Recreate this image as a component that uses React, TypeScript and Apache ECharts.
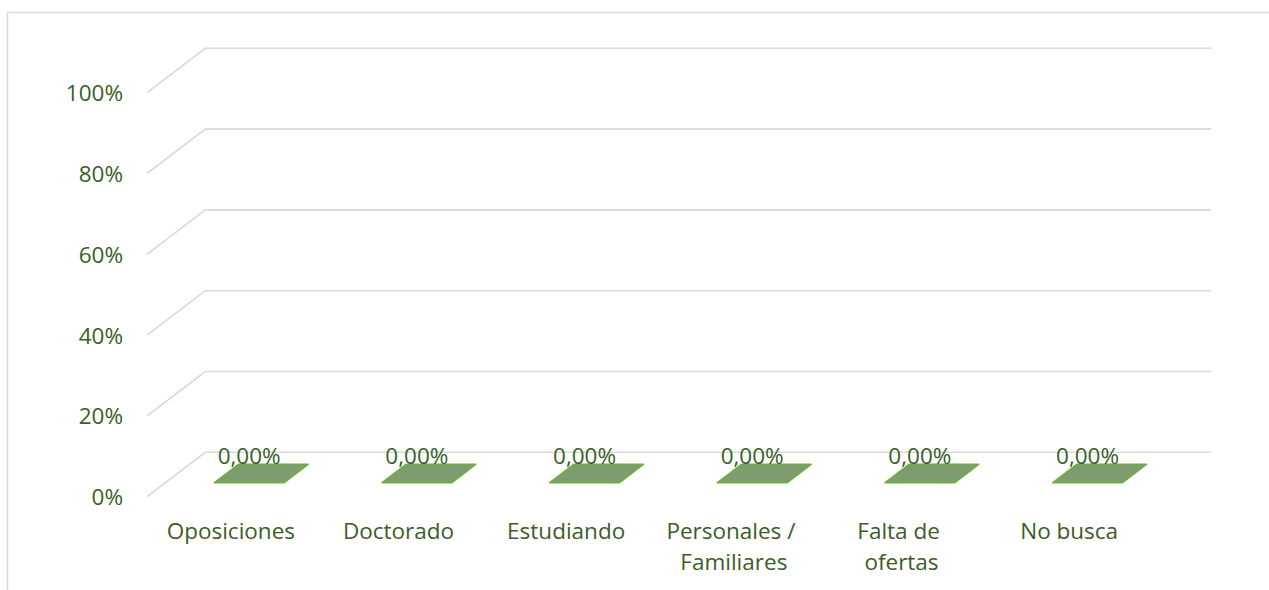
import React, { useEffect, useRef } from 'react';
import * as echarts from 'echarts';

const categories = ['Oposiciones', 'Doctorado', 'Estudiando', 'Personales / Familiares', 'Falta de ofertas', 'No busca'];
const values = [0, 0, 0, 0, 0, 0];
const yTicks = [0, 20, 40, 60, 80, 100];

const DEPTH_X = 58.3;
const DEPTH_Y = 44.4;
const BAR_D0 = 0.315;
const BAR_D1 = 0.73;
const BAR_W = 0.413;

const TEXT_COLOR = '#3a5e26';
const FONT = 'Open Sans';
const GRID_COLOR = '#d9d9d9';

export default function App() {
  const ref = useRef<HTMLDivElement>(null);
  useEffect(() => {
    const chart = echarts.init(ref.current!, null, { renderer: 'svg' });
    chart.setOption({
      animation: false,
      graphic: [
        {
          type: 'rect',
          silent: true,
          z: 0,
          shape: { x: 7.5, y: 12.5, width: 1400, height: 700 },
          style: { fill: 'none', stroke: GRID_COLOR, lineWidth: 1.5 },
        },
      ],
      grid: { left: 147, right: 116, top: 92.7, bottom: 93.3, containLabel: false },
      xAxis: {
        type: 'category',
        data: categories,
        axisLine: { show: false },
        axisTick: { show: false },
        splitLine: { show: false },
        axisLabel: {
          interval: 0,
          color: TEXT_COLOR,
          fontFamily: FONT,
          fontSize: 22.5,
          lineHeight: 31,
          margin: 18,
          width: 150,
          overflow: 'break',
        },
      },
      yAxis: {
        type: 'value',
        min: 0,
        max: 100,
        interval: 20,
        axisLine: { show: false },
        axisTick: { show: false },
        splitLine: { show: false },
        axisLabel: {
          formatter: '{value}%',
          color: TEXT_COLOR,
          fontFamily: FONT,
          fontSize: 22.5,
          margin: 24,
        },
      },
      series: [
        {
          type: 'custom',
          name: 'grid3d',
          silent: true,
          z: 1,
          data: yTicks.map((v) => [0, v]),
          encode: { x: 0, y: 1 },
          renderItem: (params: any, api: any) => {
            const cs = params.coordSys;
            const y = api.coord([0, api.value(1)])[1];
            const x0 = cs.x;
            const x1 = cs.x + cs.width;
            return {
              type: 'polyline',
              shape: {
                points: [
                  [x0, y],
                  [x0 + DEPTH_X, y - DEPTH_Y],
                  [x1 + DEPTH_X, y - DEPTH_Y],
                ],
              },
              style: { stroke: GRID_COLOR, lineWidth: 1.6, fill: 'none' },
            };
          },
        },
        {
          type: 'custom',
          name: 'Valores',
          z: 2,
          data: values.map((v, i) => [i, v]),
          encode: { x: 0, y: 1 },
          renderItem: (params: any, api: any) => {
            const i = api.value(0);
            const v = api.value(1);
            const base = api.coord([i, 0]);
            const top = api.coord([i, v]);
            const bw = api.size([1, 0])[0];
            const w = bw * BAR_W;
            const cx = base[0];
            const yb = base[1];
            const yt = top[1];
            const P = (x: number, y: number, d: number) => [x + d * DEPTH_X, y - d * DEPTH_Y];
            const xl = cx - w / 2;
            const xr = cx + w / 2;
            const fill = '#7f9b70';
            const stroke = '#70ad47';
            const children: any[] = [];
            if (yb - yt > 0.5) {
              children.push({
                type: 'polygon',
                shape: { points: [P(xl, yb, BAR_D0), P(xr, yb, BAR_D0), P(xr, yt, BAR_D0), P(xl, yt, BAR_D0)] },
                style: { fill, stroke, lineWidth: 1.5 },
              });
              children.push({
                type: 'polygon',
                shape: { points: [P(xr, yb, BAR_D0), P(xr, yb, BAR_D1), P(xr, yt, BAR_D1), P(xr, yt, BAR_D0)] },
                style: { fill: '#6e8b60', stroke, lineWidth: 1.5 },
              });
            }
            children.push({
              type: 'polygon',
              shape: { points: [P(xl, yt, BAR_D0), P(xr, yt, BAR_D0), P(xr, yt, BAR_D1), P(xl, yt, BAR_D1)] },
              style: { fill, stroke, lineWidth: 1.8, lineJoin: 'round' },
            });
            const lab = P(cx, yt, BAR_D0);
            children.push({
              type: 'text',
              x: lab[0],
              y: yt - BAR_D1 * DEPTH_Y - 9,
              style: {
                text: v.toFixed(2).replace('.', ',') + '%',
                fill: TEXT_COLOR,
                fontFamily: FONT,
                fontSize: 22.5,
                align: 'center',
                verticalAlign: 'middle',
              },
            });
            return { type: 'group', children };
          },
        },
      ],
    });
    return () => chart.dispose();
  }, []);
  return (
    <div
      ref={ref}
      style={{ position: 'fixed', left: 0, top: 0, width: 1269, height: 590, background: '#ffffff' }}
    />
  );
}
